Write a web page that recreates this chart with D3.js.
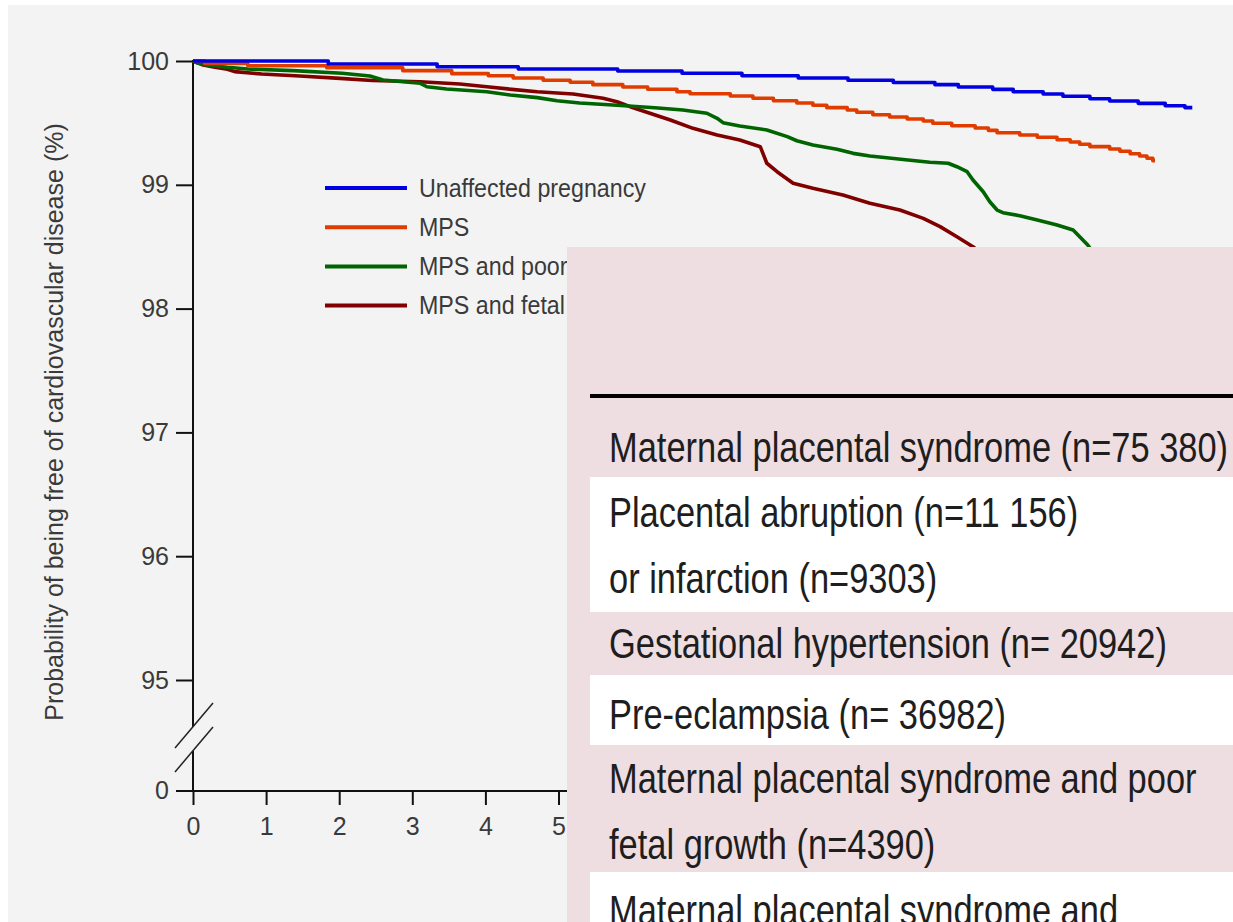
<!DOCTYPE html>
<html><head><meta charset="utf-8">
<script src="https://cdn.jsdelivr.net/npm/d3@7"></script>
<style>body{margin:0;background:#fff;} svg{display:block}</style>
</head><body>
<svg id="c" width="1233" height="922"></svg>
<script>
// ---------------- DATA ----------------
const seriesNames = ["Unaffected pregnancy", "MPS", "MPS and poor fetal growth", "MPS and fetal death"];
const seriesColors = ["#0000e0", "#e03c00", "#006400", "#800000"];

const unaffectedYears  = [0, 1.85, 3.34, 4.45, 5.81, 6.69, 7.51, 8.28, 8.96, 9.58, 10.15, 10.47, 10.94, 11.22, 11.63, 11.90, 12.27, 12.54, 12.93, 13.30, 13.57, 13.67];
const unaffectedValues = [100, 99.976, 99.954, 99.935, 99.919, 99.901, 99.881, 99.863, 99.844, 99.826, 99.809, 99.790, 99.771, 99.752, 99.733, 99.715, 99.695, 99.677, 99.658, 99.639, 99.623, 99.623];

const mpsYears  = [0, 0.16, 0.75, 1.83, 2.87, 3.54, 4.04, 4.38, 4.79, 5.16, 5.47, 5.88, 6.22, 6.62, 6.80, 7.35, 7.66, 7.94, 8.26, 8.48, 8.67, 8.95, 9.08, 9.30, 9.53, 9.77, 9.99, 10.12, 10.38, 10.70, 10.88, 11.00, 11.31, 11.55, 11.82, 12.00, 12.13, 12.27, 12.54, 12.68, 12.82, 12.95, 13.05, 13.13, 13.16];
const mpsValues = [100, 99.980, 99.962, 99.946, 99.922, 99.898, 99.881, 99.863, 99.844, 99.828, 99.809, 99.790, 99.772, 99.752, 99.736, 99.717, 99.699, 99.679, 99.661, 99.642, 99.623, 99.604, 99.586, 99.566, 99.548, 99.532, 99.515, 99.497, 99.477, 99.459, 99.440, 99.421, 99.402, 99.384, 99.364, 99.346, 99.327, 99.308, 99.289, 99.271, 99.251, 99.233, 99.214, 99.195, 99.195];

const poorGrowthYears  = [0, 0.05, 0.19, 0.47, 0.75, 1.37, 2.04, 2.42, 2.60, 3.11, 3.20, 3.47, 4.02, 4.34, 4.71, 4.98, 5.29, 5.80, 6.32, 6.70, 7.03, 7.17, 7.25, 7.48, 7.85, 8.13, 8.26, 8.48, 8.81, 9.03, 9.26, 9.49, 9.78, 10.08, 10.33, 10.45, 10.59, 10.67, 10.81, 10.90, 11.00, 11.08, 11.31, 11.55, 11.82, 12.04, 12.13, 12.24, 12.34];
const poorGrowthValues = [100, 99.986, 99.968, 99.949, 99.935, 99.922, 99.901, 99.879, 99.847, 99.820, 99.792, 99.774, 99.752, 99.725, 99.704, 99.679, 99.661, 99.642, 99.623, 99.604, 99.578, 99.537, 99.502, 99.475, 99.443, 99.389, 99.356, 99.321, 99.287, 99.254, 99.233, 99.219, 99.200, 99.182, 99.174, 99.146, 99.106, 99.039, 98.944, 98.863, 98.796, 98.775, 98.750, 98.716, 98.675, 98.635, 98.581, 98.514, 98.433];

const fetalDeathYears  = [0, 0.14, 0.30, 0.47, 0.57, 0.94, 1.46, 2.01, 2.45, 3.11, 3.65, 4.02, 4.36, 4.71, 5.20, 5.61, 5.80, 5.98, 6.25, 6.53, 6.84, 7.17, 7.48, 7.76, 7.85, 7.99, 8.21, 8.48, 8.89, 9.26, 9.67, 9.99, 10.22, 10.45, 10.67, 10.83];
const fetalDeathValues = [100, 99.968, 99.949, 99.933, 99.914, 99.895, 99.879, 99.860, 99.842, 99.833, 99.814, 99.792, 99.771, 99.752, 99.733, 99.699, 99.671, 99.631, 99.578, 99.523, 99.456, 99.402, 99.362, 99.308, 99.174, 99.106, 99.012, 98.972, 98.918, 98.851, 98.796, 98.729, 98.662, 98.581, 98.500, 98.425];

const yTickValues = [95, 96, 97, 98, 99, 100];
const xTickValues = [0, 1, 2, 3, 4, 5];   // ticks visible left of the overlay
const yAxisTitle = "Probability of being free of cardiovascular disease (%)";

const tableRows = [
  ["Maternal placental syndrome (n=75 380)"],
  ["Placental abruption (n=11 156)", "or infarction (n=9303)"],
  ["Gestational hypertension (n= 20942)"],
  ["Pre-eclampsia (n= 36982)"],
  ["Maternal placental syndrome and poor", "fetal growth (n=4390)"],
  ["Maternal placental syndrome and"]
];

// ---------------- LAYOUT ----------------
const W = 1233, H = 922;
const svg = d3.select("#c");
const chartFont = "'Liberation Sans', Arial, sans-serif";
const tableFont = "'Liberation Sans', Arial, sans-serif";

svg.append("rect").attr("x", 0).attr("y", 0).attr("width", W).attr("height", H).attr("fill", "#ffffff");
svg.append("rect").attr("x", 8).attr("y", 5).attr("width", W - 8).attr("height", H - 5).attr("fill", "#f3f3f3");

const x = d3.scaleLinear().domain([0, 15]).range([193, 193 + 15 * 73.1]);
const y = d3.scaleLinear().domain([95, 100]).range([680, 61]);
const yZero = 791;
const axisColor = "#111";
const textColor = "#3a3a3a";

// Y axis (upper part)
const yAx = svg.append("g").attr("transform", `translate(${x(0)},0)`)
  .call(d3.axisLeft(y).tickValues(yTickValues).tickSize(17).tickPadding(7).tickFormat(d3.format("d")));
yAx.select(".domain").remove();
yAx.selectAll(".tick line").attr("stroke", axisColor).attr("stroke-width", 2);
yAx.selectAll(".tick text").attr("fill", textColor).style("font-family", chartFont).style("font-size", "25px");

// Y axis line with break
const breakTop = 727, breakBot = 751;
svg.append("line").attr("x1", x(0)).attr("x2", x(0)).attr("y1", y(100) - 1).attr("y2", breakTop).attr("stroke", axisColor).attr("stroke-width", 2);
svg.append("line").attr("x1", x(0)).attr("x2", x(0)).attr("y1", breakBot).attr("y2", yZero).attr("stroke", axisColor).attr("stroke-width", 2);
[breakTop, breakBot].forEach(cy => {
  svg.append("line").attr("x1", x(0) - 18).attr("y1", cy + 21).attr("x2", x(0) + 20).attr("y2", cy - 24)
    .attr("stroke", "#222").attr("stroke-width", 1.5);
});

// "0" tick on y axis
svg.append("line").attr("x1", x(0) - 17).attr("x2", x(0)).attr("y1", yZero).attr("y2", yZero).attr("stroke", axisColor).attr("stroke-width", 2);
svg.append("text").attr("x", x(0) - 24).attr("y", yZero).attr("dy", "0.32em").attr("text-anchor", "end")
  .attr("fill", textColor).style("font-family", chartFont).style("font-size", "25px").text("0");

// X axis
const xAx = svg.append("g").attr("transform", `translate(0,${yZero})`)
  .call(d3.axisBottom(x).tickValues(xTickValues).tickSize(14).tickPadding(12).tickFormat(d3.format("d")));
xAx.select(".domain").remove();
xAx.selectAll(".tick line").attr("stroke", axisColor).attr("stroke-width", 2);
xAx.selectAll(".tick text").attr("fill", textColor).style("font-family", chartFont).style("font-size", "25px");
svg.append("line").attr("x1", x(0) - 17).attr("x2", x(15)).attr("y1", yZero).attr("y2", yZero).attr("stroke", axisColor).attr("stroke-width", 2);

// Y axis title
svg.append("text").attr("transform", `translate(54,${(122 + 722) / 2}) rotate(-90)`)
  .attr("text-anchor", "middle").attr("dy", "0.35em")
  .attr("fill", textColor).style("font-family", chartFont).style("font-size", "25px").text(yAxisTitle);

// Curves
const series = [
  [unaffectedYears, unaffectedValues],
  [mpsYears, mpsValues],
  [poorGrowthYears, poorGrowthValues],
  [fetalDeathYears, fetalDeathValues]
].map(([t, v]) => t.map((d, i) => [d, v[i]]));

const stepLine = d3.line().x(d => x(d[0])).y(d => y(d[1])).curve(d3.curveStepAfter);
const linLine = d3.line().x(d => x(d[0])).y(d => y(d[1])).curve(d3.curveLinear);
[3, 2, 1, 0].forEach(i => {
  svg.append("path").datum(series[i]).attr("d", i >= 2 ? linLine : stepLine)
    .attr("fill", "none").attr("stroke", seriesColors[i]).attr("stroke-width", 3.6)
    .attr("stroke-linejoin", "round");
});

// Legend
const leg = svg.append("g");
seriesNames.forEach((name, i) => {
  const ly = 188 + i * 39.2;
  leg.append("line").attr("x1", 325).attr("x2", 407).attr("y1", ly).attr("y2", ly)
    .attr("stroke", seriesColors[i]).attr("stroke-width", 4);
  leg.append("text").attr("transform", `translate(419,${ly}) scale(0.93,1)`).attr("dy", "0.34em")
    .attr("fill", textColor).style("font-family", chartFont).style("font-size", "25px").text(name);
});

// ---------------- Overlay table ----------------
const ov = svg.append("g");
const ovX = 567, ovY = 247;
ov.append("rect").attr("x", ovX).attr("y", ovY).attr("width", W - ovX).attr("height", H - ovY).attr("fill", "#eedde1");
const tblX = 590;
ov.append("rect").attr("x", tblX).attr("y", 394).attr("width", W - tblX).attr("height", 4).attr("fill", "#000");

const rowLayout = [
  {top: 398, bottom: 477, base: 462},
  {top: 477, bottom: 612, base: 527},
  {top: 612, bottom: 675, base: 658},
  {top: 675, bottom: 745, base: 729},
  {top: 745, bottom: 872, base: 793},
  {top: 872, bottom: 960, base: 925}
];
const lineGap = 66;
tableRows.forEach((lines, i) => {
  const L = rowLayout[i];
  const shaded = i % 2 === 0;
  if (!shaded) {
    ov.append("rect").attr("x", tblX).attr("y", L.top).attr("width", W - tblX).attr("height", L.bottom - L.top).attr("fill", "#ffffff");
  }
  lines.forEach((txt, j) => {
    ov.append("text").attr("transform", `translate(609,${L.base + j * lineGap}) scale(0.82,1)`)
      .attr("fill", "#1e1e1e").style("font-family", tableFont).style("font-size", "42px").text(txt);
  });
});
</script>
</body></html>
